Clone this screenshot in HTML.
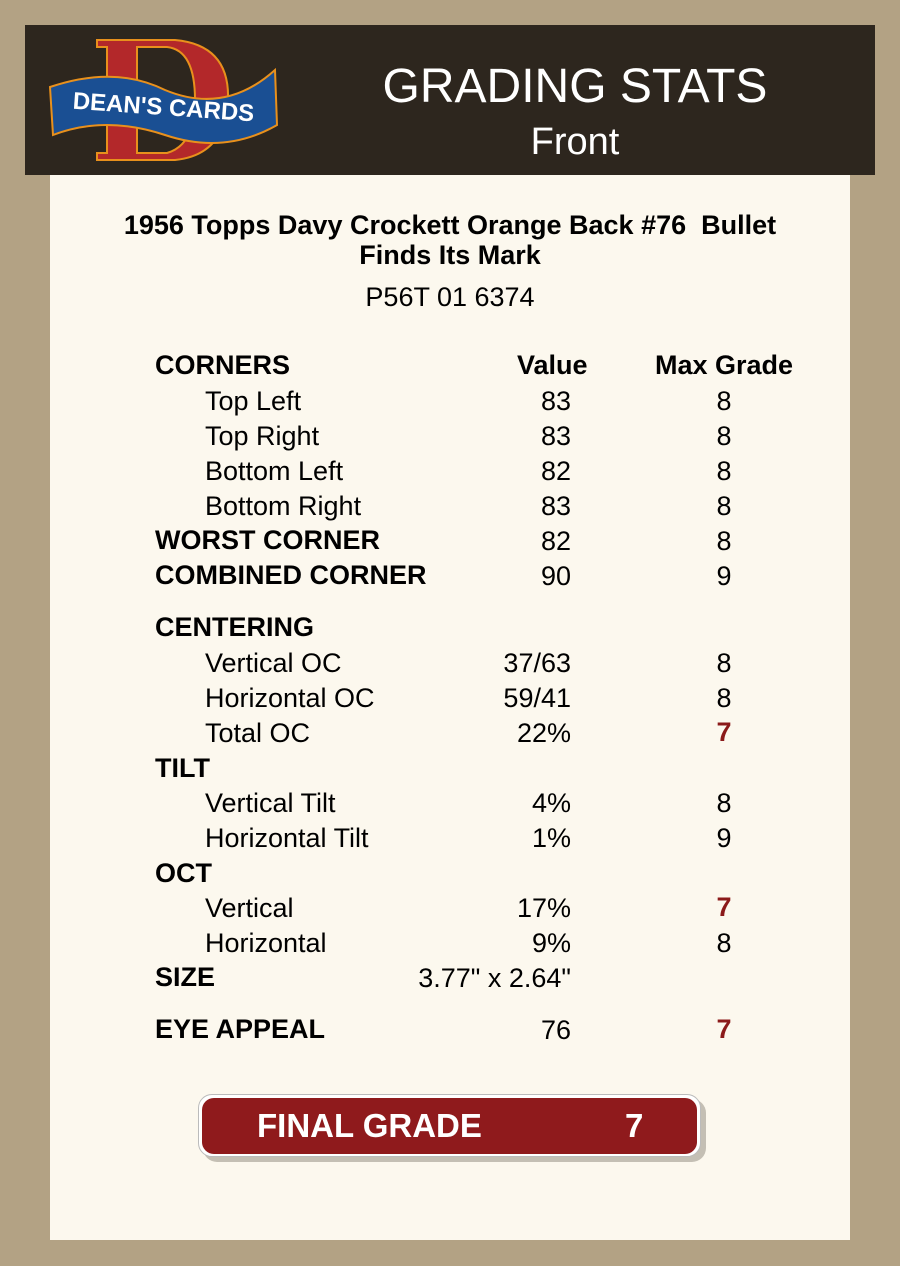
<!DOCTYPE html>
<html><head><meta charset="utf-8"><style>
*{margin:0;padding:0}
body{width:900px;height:1266px;background:#b3a284;position:relative;overflow:hidden;font-family:"Liberation Sans",Arial,sans-serif;color:#000}
.hdr{position:absolute;left:25px;top:25px;width:850px;height:150px;background:#2d261e}
.panel{position:absolute;left:50px;top:175px;width:800px;height:1065px;background:#fcf8ee}
.t{position:absolute;white-space:nowrap;font-size:27px;line-height:28px}
.b{font-weight:bold}
.v{position:absolute;width:250px;left:321px;text-align:right;font-size:27px;line-height:28px}
.m{position:absolute;width:60px;left:694px;text-align:center;font-size:27px;line-height:28px}
.r{color:#8b1a1a;font-weight:bold}
</style></head><body>
<div class="hdr"></div>
<svg style="position:absolute;left:45px;top:35px" width="240" height="130" viewBox="0 0 240 130">
<path d="M52 5 H130 Q185 10 183 65 Q180 120 130 125 H52 V118 H62 V12 H52 Z M92 12 V118 H122 Q150 110 150 65 Q150 15 122 12 Z" fill="#b3282a" stroke="#e8901c" stroke-width="2"/>
<path d="M5 52 Q70 30 120 55 Q180 80 230 35 L232 90 Q180 120 120 100 Q60 80 8 100 Z" fill="#1a4f93" stroke="#e8901c" stroke-width="2"/>
<text x="118" y="80" text-anchor="middle" font-family="Liberation Sans" font-weight="bold" font-size="24" fill="#fff" transform="rotate(4 118 80)">DEAN'S CARDS</text>
</svg>
<div class="t" style="left:0;width:1150px;text-align:center;top:60px;font-size:48px;line-height:54px;color:#fff">GRADING STATS</div>
<div class="t" style="left:0;width:1150px;text-align:center;top:121px;font-size:38px;line-height:42px;color:#fff">Front</div>
<div class="panel"></div>
<div class="t b" style="left:0;width:900px;text-align:center;top:211px">1956 Topps Davy Crockett Orange Back #76&nbsp; Bullet</div>
<div class="t b" style="left:0;width:900px;text-align:center;top:241px">Finds Its Mark</div>
<div class="t" style="left:0;width:900px;text-align:center;top:283px">P56T 01 6374</div>

<div class="t b" style="left:155px;top:351px">CORNERS</div><div class="t b" style="left:517px;top:351px">Value</div><div class="t b" style="left:655px;top:351px">Max Grade</div>
<div class="t" style="left:205px;top:387px">Top Left</div><div class="v" style="top:387px">83</div><div class="m" style="top:387px">8</div>
<div class="t" style="left:205px;top:422px">Top Right</div><div class="v" style="top:422px">83</div><div class="m" style="top:422px">8</div>
<div class="t" style="left:205px;top:457px">Bottom Left</div><div class="v" style="top:457px">82</div><div class="m" style="top:457px">8</div>
<div class="t" style="left:205px;top:492px">Bottom Right</div><div class="v" style="top:492px">83</div><div class="m" style="top:492px">8</div>
<div class="t b" style="left:155px;top:526px">WORST CORNER</div><div class="v" style="top:527px">82</div><div class="m" style="top:527px">8</div>
<div class="t b" style="left:155px;top:561px">COMBINED CORNER</div><div class="v" style="top:562px">90</div><div class="m" style="top:562px">9</div>
<div class="t b" style="left:155px;top:613px">CENTERING</div>
<div class="t" style="left:205px;top:649px">Vertical OC</div><div class="v" style="top:649px">37/63</div><div class="m" style="top:649px">8</div>
<div class="t" style="left:205px;top:684px">Horizontal OC</div><div class="v" style="top:684px">59/41</div><div class="m" style="top:684px">8</div>
<div class="t" style="left:205px;top:719px">Total OC</div><div class="v" style="top:719px">22%</div><div class="m r" style="top:718px">7</div>
<div class="t b" style="left:155px;top:754px">TILT</div>
<div class="t" style="left:205px;top:789px">Vertical Tilt</div><div class="v" style="top:789px">4%</div><div class="m" style="top:789px">8</div>
<div class="t" style="left:205px;top:824px">Horizontal Tilt</div><div class="v" style="top:824px">1%</div><div class="m" style="top:824px">9</div>
<div class="t b" style="left:155px;top:859px">OCT</div>
<div class="t" style="left:205px;top:894px">Vertical</div><div class="v" style="top:894px">17%</div><div class="m r" style="top:893px">7</div>
<div class="t" style="left:205px;top:929px">Horizontal</div><div class="v" style="top:929px">9%</div><div class="m" style="top:929px">8</div>
<div class="t b" style="left:155px;top:963px">SIZE</div><div class="v" style="top:964px">3.77" x 2.64"</div>
<div class="t b" style="left:155px;top:1015px">EYE APPEAL</div><div class="v" style="top:1016px">76</div><div class="m r" style="top:1015px">7</div>

<div style="position:absolute;left:203px;top:1099px;width:503px;height:63px;border-radius:14px;background:#c4bfb4"></div>
<div style="position:absolute;left:198px;top:1094px;width:501px;height:61px;border-radius:14px;background:#fff;border:1px solid #bbb"></div>
<div style="position:absolute;left:202px;top:1098px;width:495px;height:56px;border-radius:12px;background:#8f1a1c"></div>
<div class="t b" style="left:257px;top:1108px;font-size:33px;line-height:36px;color:#fff">FINAL GRADE</div>
<div class="t b" style="left:625px;top:1108px;font-size:33px;line-height:36px;color:#fff">7</div>
</body></html>
